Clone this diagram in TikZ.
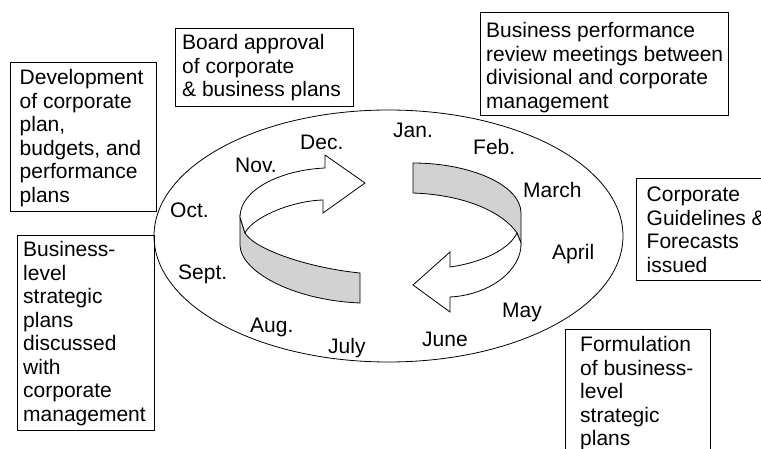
\documentclass[tikz,border=0pt]{standalone}
\usepackage{fontspec}
\setmainfont{Liberation Sans}
\usetikzlibrary{shapes.geometric}
\newcommand\mfont{\fontsize{21}{23.5}\selectfont}
\definecolor{bandgray}{RGB}{210,210,210}
\begin{document}
\begin{tikzpicture}[x=1pt,y=-1pt,
  frame/.style={draw, line width=0.9pt, inner sep=0pt, outer sep=0pt, anchor=north west},
  txt/.style={anchor=base west, inner sep=0pt, font=\mfont},
  lbl/.style={anchor=base west, inner sep=0pt, font=\mfont},
  ribbon/.style={draw, line width=0.8pt, line join=miter}]
\useasboundingbox (0,0) rectangle (761,449);

% cycle ellipse
\node (oval) [draw, ellipse, line width=0.8pt, inner sep=0pt, minimum width=469pt, minimum height=252pt] at (388.5,236) {};

% boxes
\node[frame, minimum width=146pt, minimum height=149pt] (devbox) at (10,62.7) {};
\node[txt] (devtext) at (19.5,85) {\begin{tabular}[t]{@{}l@{}}Development\\of corporate\\plan,\\budgets, and\\performance\\plans\end{tabular}};

\node[frame, minimum width=137pt, minimum height=195pt] (blbox) at (17.3,235.7) {};
\node[txt] (bltext) at (23,256.7) {\begin{tabular}[t]{@{}l@{}}Business-\\level\\strategic\\plans\\discussed\\with\\corporate\\management\end{tabular}};

\node[frame, minimum width=178.3pt, minimum height=77.7pt] (boardbox) at (175,28.3) {};
\node[txt] (boardtext) at (182,50) {\begin{tabular}[t]{@{}l@{}}Board approval\\of corporate\\\& business plans\end{tabular}};

\node[frame, minimum width=248.3pt, minimum height=102.3pt] (bpbox) at (480,12.7) {};
\node[txt] (bptext) at (486,38) {\begin{tabular}[t]{@{}l@{}}Business performance\\review meetings between\\divisional and corporate\\management\end{tabular}};

\node[frame, minimum width=140pt, minimum height=102.4pt] (cgbox) at (636.7,178.3) {};
\node[txt] (cgtext) at (646.5,201.7) {\begin{tabular}[t]{@{}l@{}}Corporate\\Guidelines \&\\Forecasts\\issued\end{tabular}};

\node[frame, minimum width=145pt, minimum height=140pt] (fbox) at (565,329.3) {};
\node[txt] (ftext) at (580,351.7) {\begin{tabular}[t]{@{}l@{}}Formulation\\of business-\\level\\strategic\\plans\end{tabular}};

% months
\node[lbl] (jan) at (393,138) {Jan.};
\node[lbl] (feb) at (473,155) {Feb.};
\node[lbl] (mar) at (523,198) {March};
\node[lbl] (apr) at (552,260) {April};
\node[lbl] (may) at (502,318) {May};
\node[lbl] (jun) at (422,347) {June};
\node[lbl] (jul) at (328,353) {July};
\node[lbl] (aug) at (250,333) {Aug.};
\node[lbl] (sep) at (178,280) {Sept.};
\node[lbl] (oct) at (170,218) {Oct.};
\node[lbl] (nov) at (235,173) {Nov.};
\node[lbl] (dec) at (300,150) {Dec.};

% left ribbon arrow
\path[ribbon, fill=bandgray] (240,217) -- (240,245) .. controls (240,270) and (290,300) .. (360,303) -- (360,273) .. controls (310,268) and (255,250) .. (245,233) -- cycle;
\path[ribbon, fill=white] (240,217) .. controls (240,190) and (280,170) .. (325,168) -- (325,155) -- (365,183) -- (323,213) -- (323,200) .. controls (290,201) and (252,218) .. (245,233) -- cycle;

% right ribbon arrow
\path[ribbon, fill=bandgray] (413,163) .. controls (470,163) and (521,185) .. (521,213) -- (521,243) -- (517,233) .. controls (505,215) and (470,195) .. (413,193) -- cycle;
\path[ribbon, fill=white] (521,243) .. controls (522,270) and (490,295) .. (450,297) -- (450,312) -- (413,285) -- (450,252) -- (450,267) .. controls (485,262) and (510,248) .. (517,233) -- cycle;
\end{tikzpicture}
\end{document}
